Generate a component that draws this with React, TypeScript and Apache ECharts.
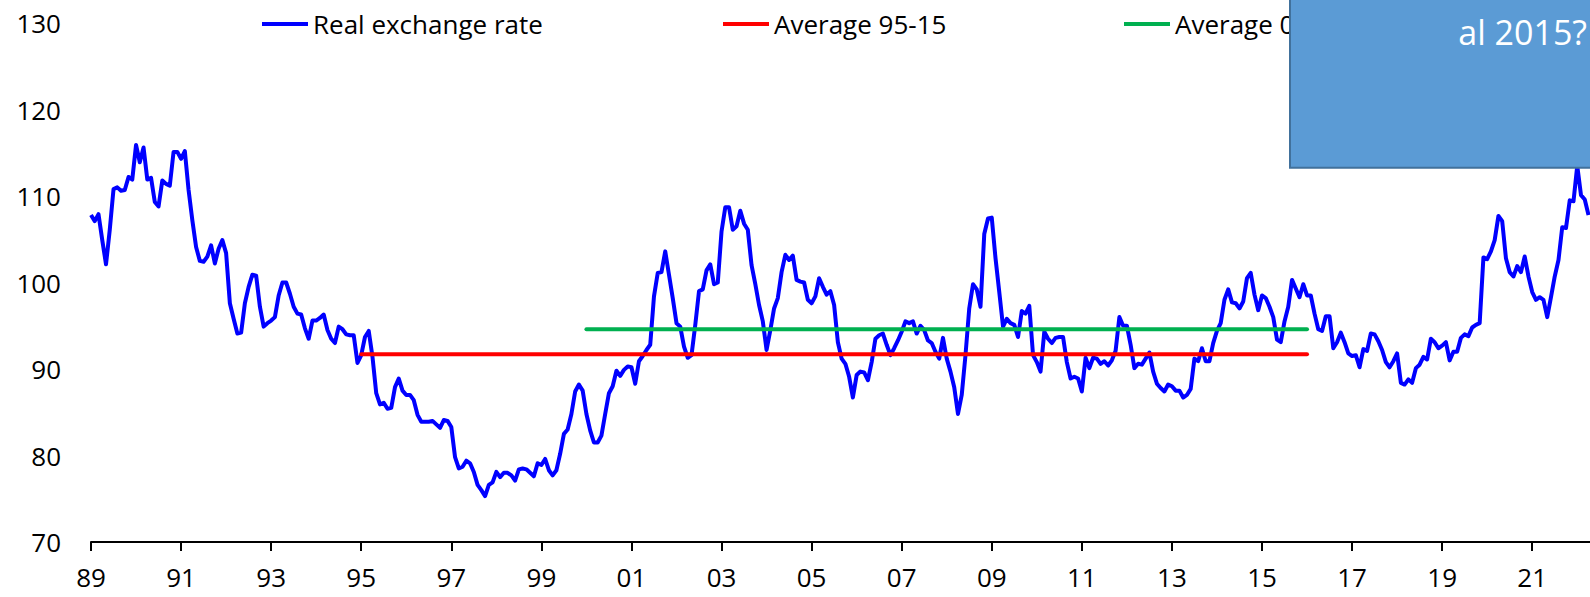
import React, { useEffect, useRef } from "react";
import * as echarts from "echarts";

// Monthly real exchange rate, Jan 1989 onwards
const y1989 = [107.8, 107.1, 107.9, 104.9, 102.1, 106.1, 110.8, 111.0, 110.6, 110.7, 112.2, 111.9];
const y1990 = [115.9, 113.9, 115.6, 111.9, 112.1, 109.3, 108.8, 111.8, 111.4, 111.2, 115.1, 115.1];
const y1991 = [114.3, 115.2, 110.7, 107.2, 104.1, 102.5, 102.4, 103.0, 104.3, 102.2, 103.9, 104.9];
const y1992 = [103.4, 97.6, 95.8, 94.1, 94.2, 97.6, 99.5, 100.9, 100.8, 97.2, 94.9, 95.3];
const y1993 = [95.6, 96.0, 98.5, 100.0, 100.0, 98.7, 97.2, 96.4, 96.3, 94.7, 93.5, 95.6];
const y1994 = [95.6, 95.9, 96.3, 94.5, 93.5, 93.0, 94.9, 94.6, 94.0, 93.9, 93.9, 90.7];
const y1995 = [91.6, 93.7, 94.4, 91.4, 87.2, 85.9, 86.1, 85.4, 85.5, 87.9, 88.9, 87.5];
const y1996 = [87.0, 87.0, 86.4, 84.7, 83.9, 83.9, 83.9, 84.0, 83.6, 83.2, 84.1, 84.0];
const y1997 = [83.3, 79.8, 78.5, 78.7, 79.4, 79.1, 78.1, 76.6, 76.0, 75.3, 76.6, 76.9];
const y1998 = [78.1, 77.5, 78.0, 78.0, 77.7, 77.1, 78.4, 78.5, 78.4, 78.0, 77.6, 79.1];
const y1999 = [78.9, 79.6, 78.3, 77.7, 78.3, 80.2, 82.5, 83.0, 84.8, 87.4, 88.2, 87.5];
const y2000 = [84.8, 82.9, 81.5, 81.5, 82.3, 84.8, 87.2, 88.0, 89.8, 89.2, 89.9, 90.3];
const y2001 = [90.2, 88.3, 90.9, 91.5, 92.2, 92.8, 98.4, 101.1, 101.2, 103.6, 100.9, 98.2];
const y2002 = [95.3, 94.9, 92.6, 91.3, 91.6, 95.1, 99.0, 99.2, 101.4, 102.1, 99.8, 100.0];
const y2003 = [105.9, 108.7, 108.7, 106.1, 106.5, 108.3, 106.8, 106.1, 102.0, 99.8, 97.4, 95.5];
const y2004 = [92.2, 94.5, 97.0, 98.2, 101.2, 103.2, 102.6, 103.1, 100.3, 100.1, 100.0, 98.0];
const y2005 = [97.6, 98.4, 100.5, 99.5, 98.6, 99.0, 97.4, 93.1, 91.2, 90.6, 89.1, 86.7];
const y2006 = [89.3, 89.7, 89.6, 88.7, 90.8, 93.5, 93.9, 94.1, 92.8, 91.6, 92.4, 93.3];
const y2007 = [94.3, 95.5, 95.3, 95.5, 94.1, 95.0, 94.5, 93.3, 93.0, 92.0, 91.2, 93.6];
const y2008 = [91.2, 89.7, 87.9, 84.8, 87.0, 91.6, 97.0, 99.8, 99.2, 97.2, 105.6, 107.4];
const y2009 = [107.5, 102.8, 98.9, 94.9, 95.8, 95.3, 95.1, 93.7, 96.7, 96.4, 97.3, 91.6];
const y2010 = [90.8, 89.7, 94.3, 93.5, 93.0, 93.6, 93.7, 93.7, 90.8, 88.9, 89.1, 88.9];
const y2011 = [87.4, 91.3, 90.1, 91.3, 91.2, 90.6, 90.9, 90.4, 91.0, 92.1, 96.0, 95.0];
const y2012 = [95.0, 92.8, 90.1, 90.6, 90.5, 91.2, 91.9, 89.7, 88.3, 87.8, 87.4, 88.2];
const y2013 = [88.0, 87.5, 87.5, 86.7, 87.0, 87.7, 91.2, 90.9, 92.4, 90.9, 90.9, 93.0];
const y2014 = [94.4, 95.3, 98.0, 99.2, 97.7, 97.6, 97.0, 97.8, 100.5, 101.1, 98.6, 96.8];
const y2015 = [98.5, 98.2, 97.2, 96.0, 93.4, 93.1, 95.5, 97.2, 100.3, 99.3, 98.3, 99.8];
const y2016 = [98.5, 98.5, 96.4, 94.6, 94.4, 96.1, 96.1, 92.4, 93.1, 94.2, 93.1, 91.8];
const y2017 = [91.5, 91.6, 90.2, 92.3, 92.1, 94.1, 94.0, 93.2, 92.2, 90.8, 90.2, 90.9];
const y2018 = [91.8, 88.4, 88.2, 88.8, 88.4, 90.1, 90.5, 91.4, 91.1, 93.5, 93.1, 92.4];
const y2019 = [92.7, 93.1, 91.0, 92.0, 92.0, 93.6, 94.0, 93.8, 94.8, 95.1, 95.3, 102.9];
const y2020 = [102.7, 103.6, 104.9, 107.7, 107.1, 102.8, 101.2, 100.7, 101.9, 101.2, 103.0, 100.7];
const y2021 = [98.9, 98.0, 98.3, 98.0, 96.0, 98.3, 100.7, 102.6, 106.4, 106.3, 109.5, 109.4];
const y2022 = [113.5, 110.1, 109.6, 107.8];

const START_YEAR = 1989;
const realRate = [
  ...y1989, ...y1990, ...y1991, ...y1992, ...y1993, ...y1994, ...y1995, ...y1996,
  ...y1997, ...y1998, ...y1999, ...y2000, ...y2001, ...y2002, ...y2003, ...y2004,
  ...y2005, ...y2006, ...y2007, ...y2008, ...y2009, ...y2010, ...y2011, ...y2012,
  ...y2013, ...y2014, ...y2015, ...y2016, ...y2017, ...y2018, ...y2019, ...y2020,
  ...y2021, ...y2022,
];

const avg9515Value = 91.7;
const avg9515Span = [1995, 2016];
const avg0015Value = 94.6;
const avg0015Span = [2000, 2016];

const xTickYears = [1989, 1991, 1993, 1995, 1997, 1999, 2001, 2003, 2005, 2007, 2009, 2011, 2013, 2015, 2017, 2019, 2021];
const yTicks = [70, 80, 90, 100, 110, 120, 130];

const seriesNames = ["Real exchange rate", "Average 95-15", "Average 00-15"];
const boxText = "al 2015?";

const FONT = "'Open Sans', sans-serif";

export default function App() {
  const ref = useRef<HTMLDivElement>(null);

  useEffect(() => {
    if (!ref.current) return;
    const chart = echarts.init(ref.current, undefined, { renderer: "svg" });
    const rateData = realRate.map((v, i) => [START_YEAR + i / 12, v]);
    const legendBase = {
      top: 11,
      padding: 0,
      icon: "rect",
      itemWidth: 46,
      itemHeight: 4,
      textStyle: { fontFamily: FONT, fontSize: 26, color: "#000", lineHeight: 26 },
      selectedMode: false,
    };
    chart.setOption({
      animation: false,
      backgroundColor: "#fff",
      grid: { left: 91, right: 0, top: 23, bottom: 55, containLabel: false },
      legend: [
        { ...legendBase, left: 262, data: [seriesNames[0]] },
        { ...legendBase, left: 723, data: [seriesNames[1]] },
        { ...legendBase, left: 1124, data: [seriesNames[2]] },
      ],
      xAxis: {
        type: "value",
        min: START_YEAR,
        max: 2022.283,
        splitLine: { show: false },
        axisLine: { show: true, lineStyle: { color: "#000", width: 2 } },
        axisTick: {
          show: true,
          inside: false,
          length: 9,
          lineStyle: { color: "#000", width: 2 },
          customValues: xTickYears,
        },
        axisLabel: {
          customValues: xTickYears,
          fontFamily: FONT,
          fontSize: 26,
          color: "#000",
          margin: 22,
          formatter: (v: number) => String(Math.round(v) % 100).padStart(2, "0"),
        },
      },
      yAxis: {
        type: "value",
        min: yTicks[0],
        max: yTicks[yTicks.length - 1],
        interval: 10,
        splitLine: { show: false },
        axisLine: { show: false },
        axisTick: { show: false },
        axisLabel: { fontFamily: FONT, fontSize: 26, color: "#000", margin: 30 },
      },
      series: [
        {
          name: seriesNames[0],
          type: "line",
          data: rateData,
          showSymbol: false,
          symbol: "none",
          color: "#0000FF",
          lineStyle: { color: "#0000FF", width: 4, join: "round" },
          z: 3,
        },
        {
          name: seriesNames[1],
          type: "line",
          data: avg9515Span.map((x) => [x, avg9515Value]),
          showSymbol: false,
          symbol: "none",
          color: "#FF0000",
          lineStyle: { color: "#FF0000", width: 4, cap: "round" },
          z: 4,
        },
        {
          name: seriesNames[2],
          type: "line",
          data: avg0015Span.map((x) => [x, avg0015Value]),
          showSymbol: false,
          symbol: "none",
          color: "#00B050",
          lineStyle: { color: "#00B050", width: 4, cap: "round" },
          z: 4,
        },
      ],
      graphic: [
        {
          type: "rect",
          z: 100,
          shape: { x: 1290, y: -10, width: 320, height: 177.7 },
          style: { fill: "#5B9BD5", stroke: "#41719C", lineWidth: 2 },
        },
        {
          type: "text",
          z: 101,
          x: 1587,
          y: 32,
          style: {
            text: boxText,
            fill: "#fff",
            font: `34px ${FONT}`,
            align: "right",
            verticalAlign: "middle",
          },
        },
      ],
    });
    return () => chart.dispose();
  }, []);

  return (
    <div
      ref={ref}
      style={{ position: "fixed", left: 0, top: 0, width: 1590, height: 597 }}
    />
  );
}
